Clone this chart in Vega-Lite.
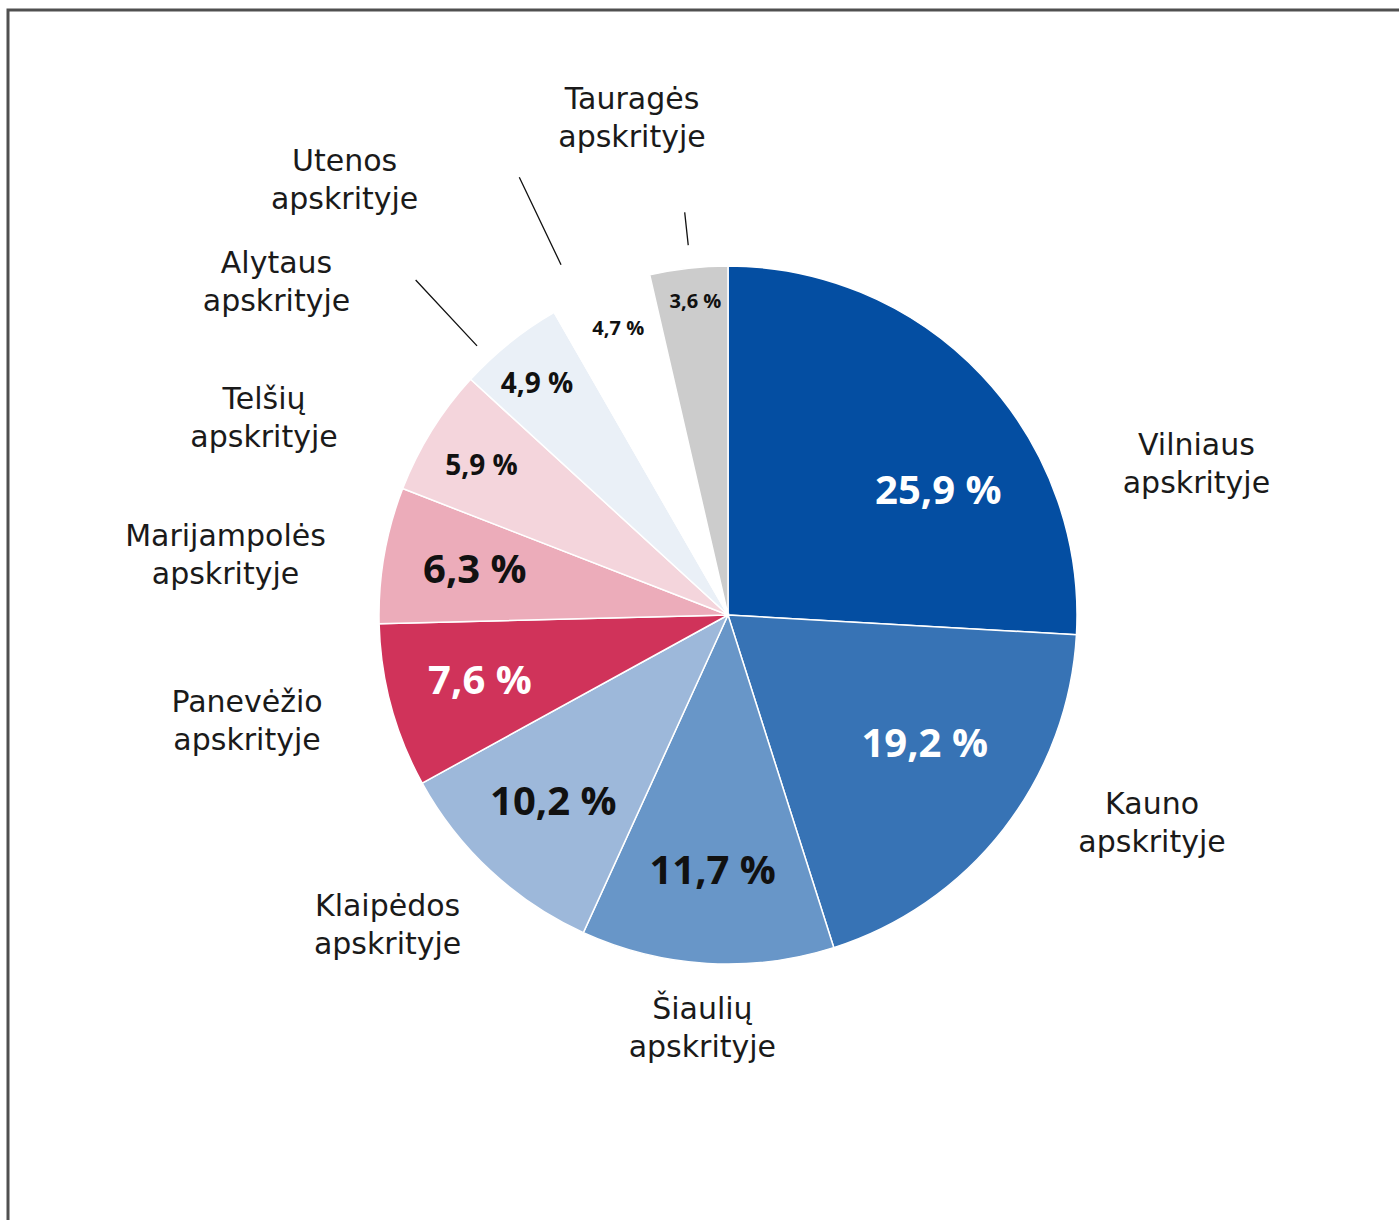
{
  "$schema": "https://vega.github.io/schema/vega-lite/v6.json",
  "width": 1440,
  "height": 1210,
  "padding": {"left": 8, "top": 10, "right": -49, "bottom": 3},
  "autosize": {"type": "none"},
  "background": "white",
  "view": {"stroke": "#505050", "strokeWidth": 3, "fill": null, "strokeDash": [2650, 1440, 1210, 1]},
  "config": {"view": {"stroke": "#505050", "strokeWidth": 3, "strokeDash": [2650, 1440, 1210, 1]}, "style": {"view": {"stroke": "#505050", "strokeWidth": 3, "strokeDash": [2650, 1440, 1210, 1]}}},
  "data": {
    "values": [
      {"name": "Vilniaus apskrityje", "value": 25.9, "label": "25,9 %"},
      {"name": "Kauno apskrityje", "value": 19.2, "label": "19,2 %"},
      {"name": "Šiaulių apskrityje", "value": 11.7, "label": "11,7 %"},
      {"name": "Klaipėdos apskrityje", "value": 10.2, "label": "10,2 %"},
      {"name": "Panevėžio apskrityje", "value": 7.6, "label": "7,6 %"},
      {"name": "Marijampolės apskrityje", "value": 6.3, "label": "6,3 %"},
      {"name": "Telšių apskrityje", "value": 5.9, "label": "5,9 %"},
      {"name": "Alytaus apskrityje", "value": 4.9, "label": "4,9 %"},
      {"name": "Utenos apskrityje", "value": 4.7, "label": "4,7 %"},
      {"name": "Tauragės apskrityje", "value": 3.6, "label": "3,6 %"}
    ]
  },
  "encoding": {
    "theta": {"field": "value", "type": "quantitative", "stack": true},
    "order": {"field": "value", "type": "quantitative", "sort": "descending"}
  },
  "layer": [
    {
      "mark": {"type": "arc", "radius": 349, "stroke": "white", "strokeWidth": 1.5},
      "encoding": {
        "color": {
          "field": "name", "type": "nominal", "legend": null,
          "scale": {
            "domain": ["Vilniaus apskrityje", "Kauno apskrityje", "Šiaulių apskrityje", "Klaipėdos apskrityje", "Panevėžio apskrityje", "Marijampolės apskrityje", "Telšių apskrityje", "Alytaus apskrityje", "Utenos apskrityje", "Tauragės apskrityje"],
            "range": ["#044EA2", "#3773B5", "#6896C8", "#9DB8DA", "#D0335A", "#ECACBA", "#F4D5DC", "#EAF0F7", "#FFFFFF", "#CCCCCC"]
          }
        }
      }
    },
    {
      "mark": {"type": "arc", "radius": 405, "radius2": 372, "padAngle": 3, "thetaOffset": 0.006, "theta2Offset": 0.006, "filled": false, "stroke": "#111", "strokeWidth": 1.3},
      "encoding": {"strokeOpacity": {"condition": {"test": "datum.name === 'Tauragės apskrityje'", "value": 1}, "value": 0}}
    },
    {
      "mark": {"type": "arc", "radius": 458, "radius2": 368, "padAngle": 3, "thetaOffset": -0.075, "theta2Offset": -0.075, "filled": false, "stroke": "#111", "strokeWidth": 1.3},
      "encoding": {"strokeOpacity": {"condition": {"test": "datum.name === 'Alytaus apskrityje'", "value": 1}, "value": 0}}
    },
    {
      "mark": {"type": "arc", "radius": 485, "radius2": 388, "padAngle": 3, "thetaOffset": -0.071, "theta2Offset": -0.071, "filled": false, "stroke": "#111", "strokeWidth": 1.3},
      "encoding": {"strokeOpacity": {"condition": {"test": "datum.name === 'Utenos apskrityje'", "value": 1}, "value": 0}}
    },
    {
      "mark": {"type": "text", "radius": 445, "dx": 145, "dy": 137, "font": "DejaVu Sans", "fontSize": 30, "lineBreak": " ", "lineHeight": 38, "fill": "#1a1a1a"},
      "encoding": {"text": {"field": "name"}, "opacity": {"condition": {"test": "datum.name === 'Vilniaus apskrityje'", "value": 1}, "value": 0}}
    },
    {
      "mark": {"type": "text", "radius": 462, "dx": 59, "dy": -93, "font": "DejaVu Sans", "fontSize": 30, "lineBreak": " ", "lineHeight": 38, "fill": "#1a1a1a"},
      "encoding": {"text": {"field": "name"}, "opacity": {"condition": {"test": "datum.name === 'Kauno apskrityje'", "value": 1}, "value": 0}}
    },
    {
      "mark": {"type": "text", "radius": 413, "dx": -1, "dy": -17, "font": "DejaVu Sans", "fontSize": 30, "lineBreak": " ", "lineHeight": 38, "fill": "#1a1a1a"},
      "encoding": {"text": {"field": "name"}, "opacity": {"condition": {"test": "datum.name === 'Šiaulių apskrityje'", "value": 1}, "value": 0}}
    },
    {
      "mark": {"type": "text", "radius": 458, "dx": -29, "dy": -44, "font": "DejaVu Sans", "fontSize": 30, "lineBreak": " ", "lineHeight": 38, "fill": "#1a1a1a"},
      "encoding": {"text": {"field": "name"}, "opacity": {"condition": {"test": "datum.name === 'Klaipėdos apskrityje'", "value": 1}, "value": 0}}
    },
    {
      "mark": {"type": "text", "radius": 492, "dx": -6, "dy": -40, "font": "DejaVu Sans", "fontSize": 30, "lineBreak": " ", "lineHeight": 38, "fill": "#1a1a1a"},
      "encoding": {"text": {"field": "name"}, "opacity": {"condition": {"test": "datum.name === 'Panevėžio apskrityje'", "value": 1}, "value": 0}}
    },
    {
      "mark": {"type": "text", "radius": 505, "dx": -5, "dy": 9, "font": "DejaVu Sans", "fontSize": 30, "lineBreak": " ", "lineHeight": 38, "fill": "#1a1a1a"},
      "encoding": {"text": {"field": "name"}, "opacity": {"condition": {"test": "datum.name === 'Marijampolės apskrityje'", "value": 1}, "value": 0}}
    },
    {
      "mark": {"type": "text", "radius": 498, "dx": -41, "dy": 48, "font": "DejaVu Sans", "fontSize": 30, "lineBreak": " ", "lineHeight": 38, "fill": "#1a1a1a"},
      "encoding": {"text": {"field": "name"}, "opacity": {"condition": {"test": "datum.name === 'Telšių apskrityje'", "value": 1}, "value": 0}}
    },
    {
      "mark": {"type": "text", "radius": 543, "dx": -112, "dy": 73, "font": "DejaVu Sans", "fontSize": 30, "lineBreak": " ", "lineHeight": 38, "fill": "#1a1a1a"},
      "encoding": {"text": {"field": "name"}, "opacity": {"condition": {"test": "datum.name === 'Alytaus apskrityje'", "value": 1}, "value": 0}}
    },
    {
      "mark": {"type": "text", "radius": 546, "dx": -184, "dy": 55, "font": "DejaVu Sans", "fontSize": 30, "lineBreak": " ", "lineHeight": 38, "fill": "#1a1a1a"},
      "encoding": {"text": {"field": "name"}, "opacity": {"condition": {"test": "datum.name === 'Utenos apskrityje'", "value": 1}, "value": 0}}
    },
    {
      "mark": {"type": "text", "radius": 505, "dx": -39, "dy": -13, "font": "DejaVu Sans", "fontSize": 30, "lineBreak": " ", "lineHeight": 38, "fill": "#1a1a1a"},
      "encoding": {"text": {"field": "name"}, "opacity": {"condition": {"test": "datum.name === 'Tauragės apskrityje'", "value": 1}, "value": 0}}
    },
    {
      "mark": {"type": "text", "radius": 237, "dx": 38, "dy": 40, "font": "Open Sans", "fontWeight": "bold", "fontSize": 40, "fill": "white"},
      "encoding": {"text": {"field": "label"}, "opacity": {"condition": {"test": "datum.name === 'Vilniaus apskrityje'", "value": 1}, "value": 0}}
    },
    {
      "mark": {"type": "text", "radius": 235, "dx": 11, "dy": -14, "font": "Open Sans", "fontWeight": "bold", "fontSize": 40, "fill": "white"},
      "encoding": {"text": {"field": "label"}, "opacity": {"condition": {"test": "datum.name === 'Kauno apskrityje'", "value": 1}, "value": 0}}
    },
    {
      "mark": {"type": "text", "radius": 257, "font": "Open Sans", "fontWeight": "bold", "fontSize": 40},
      "encoding": {
        "text": {"field": "label"},
        "color": {"condition": {"test": "datum.name === 'Panevėžio apskrityje'", "value": "white"}, "value": "#111111"},
        "opacity": {"condition": {"test": {"field": "name", "oneOf": ["Šiaulių apskrityje", "Klaipėdos apskrityje", "Panevėžio apskrityje", "Marijampolės apskrityje"]}, "value": 1}, "value": 0}
      }
    },
    {
      "mark": {"type": "text", "radius": 288, "dx": -2, "dy": 4, "font": "Open Sans", "fontWeight": "bold", "fontSize": 28, "fill": "#111111"},
      "encoding": {"text": {"field": "label"}, "opacity": {"condition": {"test": "datum.name === 'Telšių apskrityje'", "value": 1}, "value": 0}}
    },
    {
      "mark": {"type": "text", "radius": 299, "dx": -4, "dy": 3, "font": "Open Sans", "fontWeight": "bold", "fontSize": 28, "fill": "#111111"},
      "encoding": {"text": {"field": "label"}, "opacity": {"condition": {"test": "datum.name === 'Alytaus apskrityje'", "value": 1}, "value": 0}}
    },
    {
      "mark": {"type": "text", "radius": 306, "dx": 2, "dy": -1, "font": "Open Sans", "fontWeight": "bold", "fontSize": 20, "fill": "#111111"},
      "encoding": {"text": {"field": "label"}, "opacity": {"condition": {"test": "datum.name === 'Utenos apskrityje'", "value": 1}, "value": 0}}
    },
    {
      "mark": {"type": "text", "radius": 315, "dx": 3, "dy": 0, "font": "Open Sans", "fontWeight": "bold", "fontSize": 20, "fill": "#111111"},
      "encoding": {"text": {"field": "label"}, "opacity": {"condition": {"test": "datum.name === 'Tauragės apskrityje'", "value": 1}, "value": 0}}
    }
  ]
}
